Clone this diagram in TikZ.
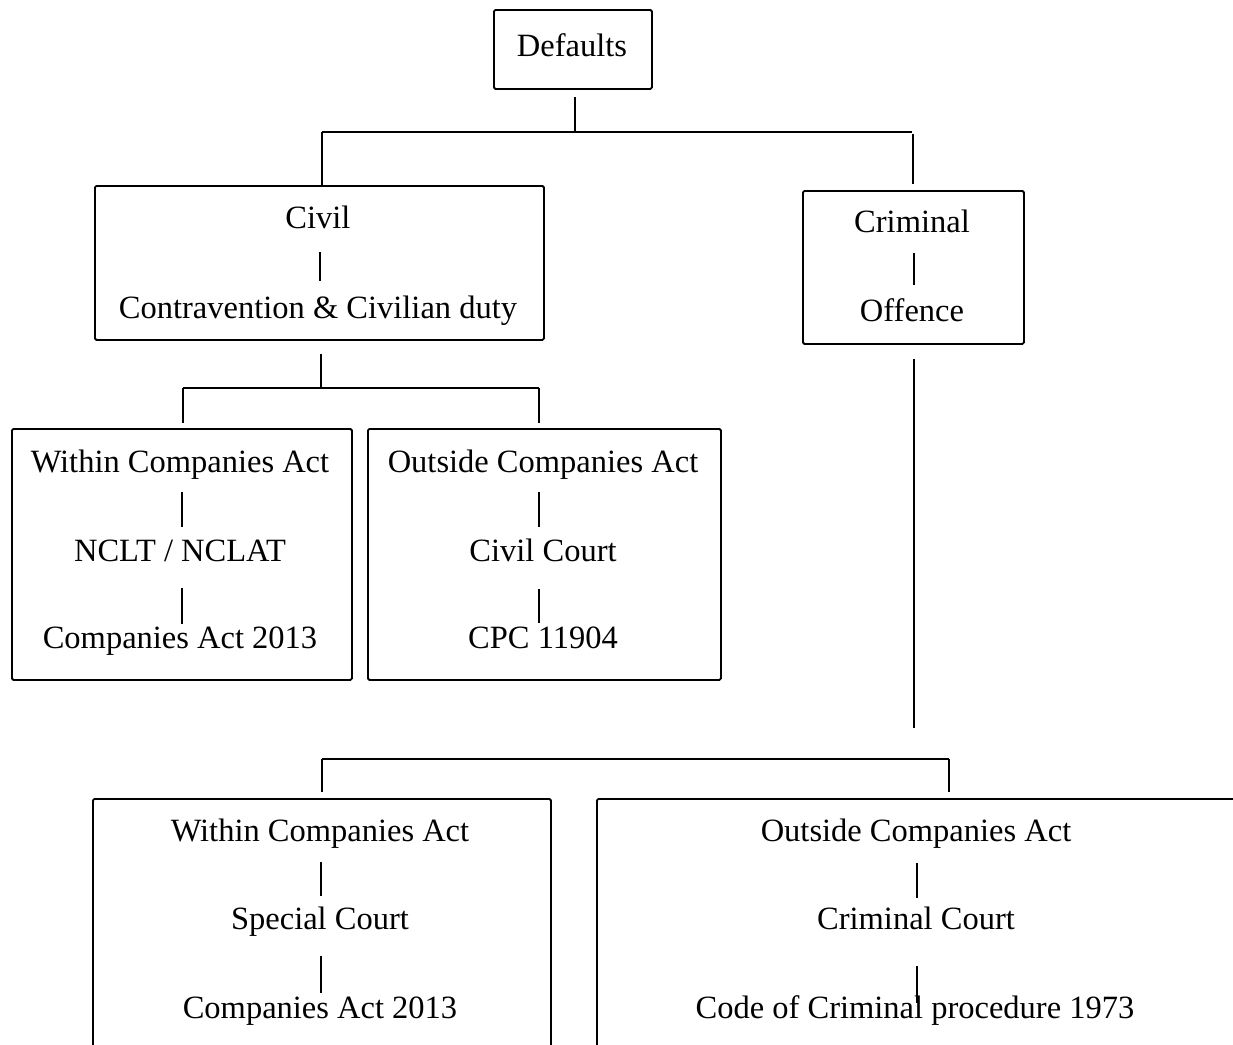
\documentclass[tikz,border=0pt]{standalone}
\usepackage{fontspec}
\setmainfont{Liberation Serif}
\begin{document}
\begin{tikzpicture}[x=1pt,y=-1pt,
  frame/.style 2 args={draw, line width=1.8pt, rounded corners=1.5pt,
    minimum width=#1, minimum height=#2, anchor=north west, inner sep=0pt},
  txt/.style={font=\fontsize{32.5}{39}\selectfont, anchor=base, inner sep=0pt},
  link/.style={line width=1.8pt},
  bar/.style={line width=1.5pt}]
\useasboundingbox (0,0) rectangle (1233,1044);
\clip (0,0) rectangle (1233,1044);

% boxes
\node[frame={158pt}{79pt}]  (defbox)  at (493,9)   {};
\node[frame={449pt}{154pt}] (civbox)  at (94,185)  {};
\node[frame={221pt}{153pt}] (crimbox) at (802,190) {};
\node[frame={340pt}{251pt}] (wcabox)  at (11,428)  {};
\node[frame={353pt}{251pt}] (ocabox)  at (367,428) {};
\node[frame={458pt}{300pt}] (wcbbox)  at (92,798)  {};
\node[frame={700pt}{300pt}] (ocbbox)  at (596,798) {};

% texts
\node[txt] (def)   at (572,56)  {Defaults};
\node[txt] (civ)   at (318,228) {Civil};
\node[txt] (contr) at (318,318) {Contravention \& Civilian duty};
\node[txt] (crim)  at (912,232) {Criminal};
\node[txt] (off)   at (912,321) {Offence};

\node[txt] (wca)   at (180,472) {Within Companies Act};
\node[txt] (nclt)  at (180,561) {NCLT / NCLAT};
\node[txt] (ca1)   at (180,648) {Companies Act 2013};

\node[txt] (oca)   at (543,472) {Outside Companies Act};
\node[txt] (cc)    at (543,561) {Civil Court};
\node[txt] (cpc)   at (543,648) {CPC 11904};

\node[txt] (wcb)   at (320,841) {Within Companies Act};
\node[txt] (spc)   at (320,929) {Special Court};
\node[txt] (ca2)   at (320,1018) {Companies Act 2013};

\node[txt] (ocb)   at (916,841) {Outside Companies Act};
\node[txt] (crc)   at (916,929) {Criminal Court};
\node[txt] (crpc)  at (915,1018) {Code of Criminal procedure 1973};

% separators inside the boxes
\draw[bar] (320,252) -- (320,281);
\draw[bar] (914,253) -- (914,285);
\draw[bar] (182,492) -- (182,527);
\draw[bar] (182,588) -- (182,624);
\draw[bar] (539,492) -- (539,527);
\draw[bar] (539,589) -- (539,623);
\draw[bar] (321,862) -- (321,896);
\draw[bar] (321,956) -- (321,993);
\draw[bar] (917,863) -- (917,898);
\draw[bar] (917,966) -- (917,1003);

% tree connectors
\coordinate (d0) at (575,97);
\coordinate (d1) at (575,132);
\coordinate (dl) at (322,132);
\coordinate (dr) at (912,132);
\coordinate (dr1) at (913,134);
\coordinate (dr2) at (913,184);
\draw[link] (d0) -- (d1);
\draw[link] (dl) -- (dr);
\draw[link] (dl) -- (dl |- civbox.north);
\draw[link] (dr1) -- (dr2);

\coordinate (c0) at (321,354);
\coordinate (c1) at (321,388);
\coordinate (cl) at (183,388);
\coordinate (cr) at (539,388);
\draw[link] (c0) -- (c1);
\draw[link] (cl) -- (cr);
\draw[link] (cl) -- (183,423);
\draw[link] (cr) -- (539,423);

\coordinate (k0) at (914,359);
\coordinate (k1) at (914,728);
\coordinate (kl) at (322,759);
\coordinate (kr) at (949,759);
\draw[link] (k0) -- (k1);
\draw[link] (kl) -- (kr);
\draw[link] (kl) -- (322,792);
\draw[link] (kr) -- (949,792);
\end{tikzpicture}
\end{document}
